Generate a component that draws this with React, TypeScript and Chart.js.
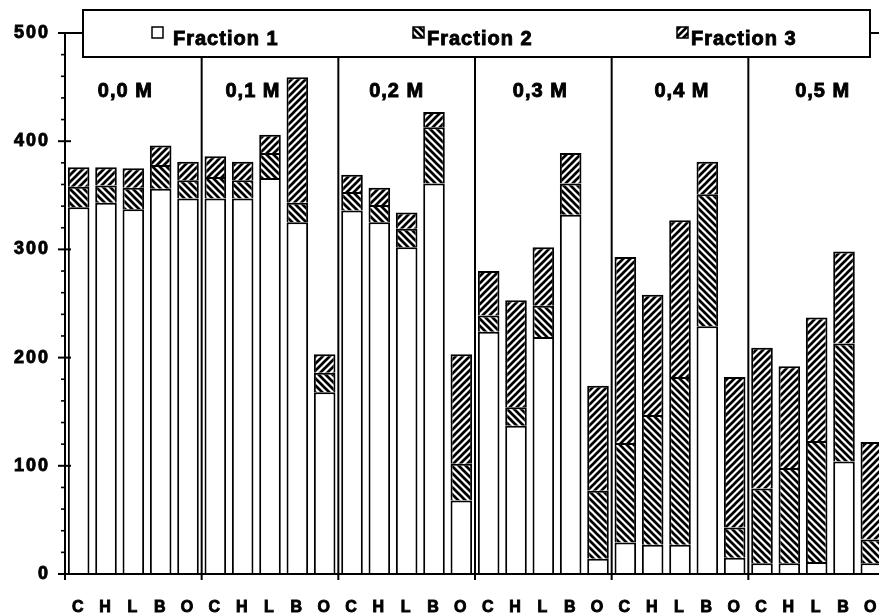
import { useEffect, useRef } from "react";
import { Chart, registerables } from "chart.js";

Chart.register(...registerables);

// Salt concentration groups and the five methods measured in each
const groups = ["0,0 M", "0,1 M", "0,2 M", "0,3 M", "0,4 M", "0,5 M"];
const methods = ["C", "H", "L", "B", "O"];
const seriesNames = ["Fraction 1", "Fraction 2", "Fraction 3"];
const yTicks = [0, 100, 200, 300, 400, 500];

// One value per bar, group by group (C, H, L, B, O)
const fraction1 = [
  339, 343, 337, 356, 347,
  347, 347, 366, 325, 168,
  336, 325, 302, 361, 68,
  224, 137, 219, 332, 14,
  29, 27, 27, 229, 15,
  10, 10, 11, 104, 10,
];
const fraction2 = [
  19, 16, 20, 22, 17,
  20, 17, 23, 18, 18,
  17, 16, 17, 52, 34,
  15, 17, 29, 29, 63,
  92, 120, 155, 122, 28,
  69, 88, 112, 109, 22,
];
const fraction3 = [
  18, 17, 18, 18, 17,
  19, 17, 17, 116, 17,
  16, 16, 15, 14, 101,
  41, 99, 54, 28, 97,
  172, 111, 145, 30, 139,
  130, 94, 114, 85, 90,
];

const categories = groups.flatMap((g) => methods.map((m) => `${g} ${m}`));

const FONT = "Liberation Sans";
// per-group nudges of the concentration captions from the group centre
const captionShift = [-8, -17, -10, -3, 2, 6];

function hatch(ctx: CanvasRenderingContext2D, forward: boolean): CanvasPattern {
  const s = 7;
  const c = document.createElement("canvas");
  c.width = s;
  c.height = s;
  const g = c.getContext("2d")!;
  g.fillStyle = "#fff";
  g.fillRect(0, 0, s, s);
  g.strokeStyle = "#000";
  g.lineWidth = 2.7;
  g.beginPath();
  if (forward) {
    g.moveTo(-1, s + 1); g.lineTo(s + 1, -1);
    g.moveTo(-s / 2 - 1, s / 2 + 1); g.lineTo(s / 2 + 1, -s / 2 - 1);
    g.moveTo(s / 2 - 1, s * 1.5 + 1); g.lineTo(s * 1.5 + 1, s / 2 - 1);
  } else {
    g.moveTo(-1, -1); g.lineTo(s + 1, s + 1);
    g.moveTo(-s / 2 - 1, s / 2 - 1); g.lineTo(s / 2 + 1, s * 1.5 + 1);
    g.moveTo(s / 2 - 1, -s / 2 - 1); g.lineTo(s * 1.5 + 1, s / 2 + 1);
  }
  g.stroke();
  return ctx.createPattern(c, "repeat")!;
}

export default function App() {
  const ref = useRef<HTMLCanvasElement>(null);

  useEffect(() => {
    const canvas = ref.current!;
    const ctx0 = canvas.getContext("2d")!;
    const fills: (string | CanvasPattern)[] = ["#ffffff", hatch(ctx0, false), hatch(ctx0, true)];

    const line = (ctx: CanvasRenderingContext2D, x1: number, y1: number, x2: number, y2: number) => {
      ctx.beginPath();
      ctx.moveTo(x1, y1);
      ctx.lineTo(x2, y2);
      ctx.stroke();
    };

    // heavy text: fill plus a thin outline of the same colour
    const boldText = (ctx: CanvasRenderingContext2D, s: string, x: number, y: number) => {
      ctx.fillText(s, x, y);
      ctx.lineWidth = 0.9;
      ctx.strokeText(s, x, y);
    };

    const decor = {
      id: "decor",
      beforeDraw(chart: any) {
        // wide lettering for the axis labels
        (chart.ctx as any).letterSpacing = "2px";
      },
      afterDatasetsDraw(chart: any) {
        const { ctx, chartArea: a, scales } = chart;
        const x = scales.x;
        const y = scales.y;
        const step = x.getPixelForValue(1) - x.getPixelForValue(0);
        const legTop = a.top - 23;
        const legBottom = a.top + 24;
        const legLeft = a.left + 18;
        const legRight = a.left + 805;

        ctx.save();
        ctx.strokeStyle = "#000";
        ctx.lineWidth = 2;

        // frame top
        line(ctx, a.left, a.top, a.right, a.top);
        // group separators with their ticks below the axis
        const bounds: number[] = [];
        for (let gi = 0; gi <= groups.length; gi++) {
          bounds.push(x.getPixelForValue(gi * methods.length) - step / 2);
        }
        for (let gi = 1; gi < groups.length; gi++) {
          line(ctx, bounds[gi], legBottom, bounds[gi], a.bottom + 6);
        }
        // axes
        line(ctx, a.left, a.top, a.left, a.bottom + 6);
        line(ctx, a.left - 7, a.bottom, a.right, a.bottom);
        // major ticks
        for (const v of yTicks) {
          const py = y.getPixelForValue(v);
          const right = v === 0 || v === 500 ? a.left : a.left + 6;
          line(ctx, a.left - 7, py, right, py);
        }
        // minor ticks
        ctx.lineWidth = 1.6;
        for (let v = 20; v < 500; v += 20) {
          if (v % 100 === 0) continue;
          const py = y.getPixelForValue(v);
          line(ctx, a.left - 4, py, a.left, py);
        }

        // legend box
        ctx.lineWidth = 2;
        ctx.fillStyle = "#fff";
        ctx.fillRect(legLeft, legTop, legRight - legLeft, legBottom - legTop);
        ctx.strokeRect(legLeft, legTop, legRight - legLeft, legBottom - legTop);

        const swatchX = [a.left + 87, a.left + 348, a.left + 612];
        ctx.font = `bold 20px "${FONT}"`;
        ctx.letterSpacing = "1px";
        ctx.textBaseline = "alphabetic";
        ctx.textAlign = "left";
        seriesNames.forEach((name, i) => {
          const sx = swatchX[i];
          const sy = legTop + 17;
          ctx.fillStyle = fills[i];
          ctx.fillRect(sx, sy, 11, 11);
          ctx.lineWidth = 1.5;
          ctx.strokeRect(sx, sy, 11, 11);
          ctx.fillStyle = "#000";
          boldText(ctx, name, sx + (i === 0 ? 21 : 14), legTop + 35);
        });

        // concentration captions
        ctx.textAlign = "center";
        groups.forEach((g, gi) => {
          const cx = (bounds[gi] + bounds[gi + 1]) / 2 + captionShift[gi];
          boldText(ctx, g, cx, a.top + 64);
        });
        ctx.restore();
        ctx.letterSpacing = "0px";
      },
    };

    const chart = new Chart(canvas, {
      type: "bar",
      data: {
        labels: categories,
        datasets: [fraction1, fraction2, fraction3].map((data, i) => ({
          label: seriesNames[i],
          data,
          backgroundColor: fills[i] as any,
          borderColor: "#000",
          borderWidth: 2,
          barPercentage: 0.79,
          categoryPercentage: 1,
        })),
      },
      options: {
        responsive: false,
        animation: false,
        events: [],
        layout: { padding: { top: 33, right: 0, bottom: 0, left: 0 } },
        plugins: {
          legend: { display: false },
          tooltip: { enabled: false },
        },
        scales: {
          x: {
            stacked: true,
            grid: { display: false, drawTicks: false },
            border: { display: false },
            ticks: {
              autoSkip: false,
              maxRotation: 0,
              minRotation: 0,
              padding: 24,
              color: "#000",
              textStrokeColor: "#000",
              textStrokeWidth: 0.9,
              font: { family: FONT, weight: "bold", size: 16 },
              callback: (_v: any, i: number) => methods[i % methods.length],
            },
            afterFit: (s: any) => {
              s.height = 41;
              s.paddingLeft = 0;
              s.paddingRight = 0;
            },
          },
          y: {
            stacked: true,
            min: 0,
            max: 500,
            grid: { display: false, drawTicks: false },
            border: { display: false },
            ticks: {
              stepSize: 100,
              padding: 15,
              color: "#000",
              textStrokeColor: "#000",
              textStrokeWidth: 0.9,
              font: { family: FONT, weight: "bold", size: 18 },
            },
            afterFit: (s: any) => {
              s.width = 65;
              s.paddingTop = 0;
              s.paddingBottom = 0;
            },
          },
        },
      },
      plugins: [decor],
    });

    return () => chart.destroy();
  }, []);

  return (
    <div
      style={{
        position: "fixed",
        left: 0,
        top: 0,
        width: 879,
        height: 615,
        overflow: "hidden",
        background: "#fff",
      }}
    >
      <canvas ref={ref} width={885} height={615} style={{ display: "block" }} />
    </div>
  );
}
